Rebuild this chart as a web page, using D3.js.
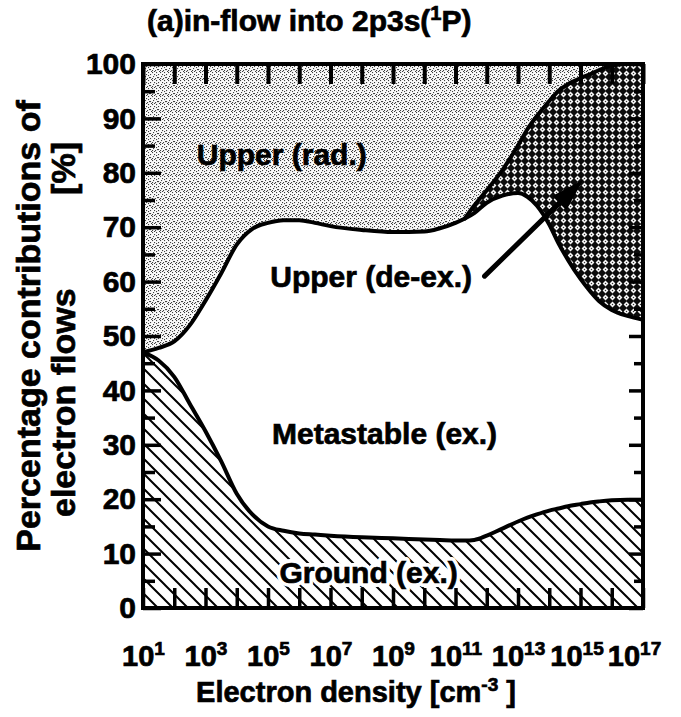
<!DOCTYPE html>
<html>
<head>
<meta charset="utf-8">
<script src="https://cdn.jsdelivr.net/npm/d3@7"></script>
<style>
  html, body { margin: 0; padding: 0; background: #fff; }
  svg { display: block; }
  text { font-family: "Liberation Sans", Arial, Helvetica, sans-serif; font-weight: bold; fill: #000;
         stroke: #000; stroke-width: 0.7px; }
  text.halo { fill: #fff; stroke: #fff; stroke-width: 8px; stroke-linejoin: round; }
</style>
</head>
<body>
<svg id="chart" width="681" height="717"></svg>
<script>
// log10 of electron density [cm^-3]
const logDensity = [1, 1.5, 2, 2.5, 3, 3.5, 4, 4.5, 5, 5.5, 6, 6.5, 7, 8, 9, 10, 10.5, 11, 11.3, 11.6,
                    12, 12.5, 13, 13.3, 13.6, 14, 14.3, 14.6, 15, 15.3, 15.6, 16, 16.5, 17];
// cumulative percentage: top of the "Ground (ex.)" band
const groundTop = [47, 45.5, 42.5, 37.5, 32.5, 27, 21, 17.2, 15, 14.2, 13.7, 13.5, 13.3, 13.0, 12.8, 12.6, 12.5, 12.4, 12.4, 12.5,
                   13.3, 14.6, 15.9, 16.6, 17.2, 17.9, 18.3, 18.7, 19.1, 19.4, 19.6, 19.8, 19.9, 19.9];
// cumulative percentage: top of the "Metastable (ex.)" band
const metastableTop = [47, 47.8, 49, 52, 56.5, 61.5, 66.8, 69.7, 70.8, 71.3, 71.3, 70.8, 70.2, 69.5, 69.1, 69.2, 69.8, 70.8, 71.6, 72.6,
                       74.5, 75.8, 76.3, 75.6, 74, 70.5, 67, 64, 60.5, 58.3, 56.4, 54.8, 53.7, 53];
// cumulative percentage: top of the "Upper (de-ex.)" band (equal to metastable below 10^11.3)
const deexTop = [47, 47.8, 49, 52, 56.5, 61.5, 66.8, 69.7, 70.8, 71.3, 71.3, 70.8, 70.2, 69.5, 69.1, 69.2, 69.8, 70.8, 71.6, 74,
                 76.8, 80.5, 85, 88, 90.4, 93.2, 95.1, 96.3, 97.4, 98.1, 98.9, 99.7, 100, 100];
const deexStart = 11.3;

const xTickExponents = [1, 3, 5, 7, 9, 11, 13, 15, 17];
const yTickValues = d3.range(0, 101, 5);
const yLabelValues = d3.range(0, 101, 10);

const titleText = { main: "(a)in-flow into 2p3s(", sup: "1", tail: "P)" };
const yTitle = { line1: "Percentage contributions of", line2: "electron flows", unit: "[%]" };
const xTitle = { main: "Electron density [cm", sup: "-3", tail: " ]" };

// region labels placed in data coordinates: [log10 density, percent]
const regionLabels = [
  { text: "Upper (rad.)", at: [5.44, 83.3], halo: false },
  { text: "Upper (de-ex.)", at: [8.3, 61], halo: false },
  { text: "Metastable (ex.)", at: [8.73, 32], halo: false },
  { text: "Ground (ex.)", at: [8.22, 6.6], halo: true }
];
const arrowFrom = [11.93, 61];
const arrowTo = [15.1, 78.8];

const svg = d3.select("#chart");
const plot = { left: 143, right: 643, top: 64, bottom: 608 };

const x = d3.scaleLog().domain([1e1, 1e17]).range([plot.left, plot.right]);
const y = d3.scaleLinear().domain([0, 100]).range([plot.bottom, plot.top]);

const rows = logDensity.map((e, i) => ({
  d: Math.pow(10, e), e, g: groundTop[i], m: metastableTop[i], u: deexTop[i]
}));

// fill patterns
const defs = svg.append("defs");
const stip = defs.append("pattern").attr("id", "stipple").attr("patternUnits", "userSpaceOnUse")
  .attr("width", 8).attr("height", 8);
stip.append("rect").attr("width", 8).attr("height", 8).attr("fill", "#fafafa");
[[0,0],[2,2],[4,0],[6,2],[1,4],[5,5],[3,6],[7,7],[0,6],[4,3],[6,5],[2,7]].forEach(([px, py]) =>
  stip.append("rect").attr("x", px).attr("y", py).attr("width", 1.1).attr("height", 1.1).attr("fill", "#404040"));

const cross = defs.append("pattern").attr("id", "crosshatch").attr("patternUnits", "userSpaceOnUse")
  .attr("width", 7).attr("height", 7);
cross.append("rect").attr("width", 7).attr("height", 7).attr("fill", "#0c0c0c");
cross.append("polygon").attr("points", "3.5,0.6 6.4,3.5 3.5,6.4 0.6,3.5").attr("fill", "#f4f4f4");
cross.append("rect").attr("x", 2.9).attr("y", 2.9).attr("width", 1.2).attr("height", 1.2).attr("fill", "#333");

const hatch = defs.append("pattern").attr("id", "hatch").attr("patternUnits", "userSpaceOnUse")
  .attr("width", 15).attr("height", 15);
hatch.append("rect").attr("width", 15).attr("height", 15).attr("fill", "#fff");
hatch.append("path").attr("d", "M-2,-2 L17,17 M-2,13 L2,17 M13,-2 L17,2")
  .attr("stroke", "#000").attr("stroke-width", 2);

const curve = d3.curveMonotoneX;
const clip = defs.append("clipPath").attr("id", "plotclip");
clip.append("rect").attr("x", plot.left).attr("y", plot.top)
  .attr("width", plot.right - plot.left).attr("height", plot.bottom - plot.top);

const g = svg.append("g").attr("clip-path", "url(#plotclip)");

// bands, bottom to top
g.append("path").datum(rows)
  .attr("d", d3.area().x(r => x(r.d)).y0(y(0)).y1(r => y(r.g)).curve(curve))
  .attr("fill", "url(#hatch)");
g.append("path").datum(rows)
  .attr("d", d3.area().x(r => x(r.d)).y0(r => y(r.g)).y1(r => y(r.m)).curve(curve))
  .attr("fill", "#fff");
g.append("path").datum(rows)
  .attr("d", d3.area().x(r => x(r.d)).y0(r => y(r.m)).y1(r => y(r.u)).curve(curve))
  .attr("fill", "url(#crosshatch)");
g.append("path").datum(rows)
  .attr("d", d3.area().x(r => x(r.d)).y0(r => y(r.u)).y1(y(100)).curve(curve))
  .attr("fill", "url(#stipple)");

// region labels (the ground label gets a white halo over the hatching)
const placeLabel = sel => sel
  .attr("x", d => x(Math.pow(10, d.at[0])))
  .attr("y", d => y(d.at[1]))
  .attr("text-anchor", "middle").attr("dominant-baseline", "central")
  .attr("font-size", 30)
  .text(d => d.text);
g.selectAll("text.halo").data(regionLabels.filter(d => d.halo)).join("text")
  .attr("class", "halo").call(placeLabel);

// boundary curves
const lineStyle = sel => sel.attr("fill", "none").attr("stroke", "#000")
  .attr("stroke-width", 4).attr("stroke-linejoin", "round").attr("stroke-linecap", "round");
g.append("path").datum(rows)
  .attr("d", d3.line().x(r => x(r.d)).y(r => y(r.g)).curve(curve)).call(lineStyle);
g.append("path").datum(rows)
  .attr("d", d3.line().x(r => x(r.d)).y(r => y(r.m)).curve(curve)).call(lineStyle);
g.append("path").datum(rows.filter(r => r.e >= deexStart))
  .attr("d", d3.line().x(r => x(r.d)).y(r => y(r.u)).curve(curve)).call(lineStyle);

// axes with inward ticks
const xTicks = xTickExponents.map(e => Math.pow(10, e));
const allDecades = d3.range(1, 18).map(e => Math.pow(10, e));
const labelShift = { 15: -4, 17: -9 };

const axisStyle = sel => {
  sel.select(".domain").remove();
  sel.selectAll(".tick line").attr("stroke", "#000").attr("stroke-width", 4);
};

svg.append("g").attr("transform", `translate(0,${plot.top})`)
  .call(d3.axisTop(x).tickValues(allDecades).tickSize(-20).tickFormat(""))
  .call(axisStyle);

const xAxis = svg.append("g").attr("transform", `translate(0,${plot.bottom})`)
  .call(d3.axisBottom(x).tickValues(allDecades).tickSizeInner(-20).tickSizeOuter(0).tickPadding(30)
    .tickFormat(d => xTicks.includes(d) ? "10" : ""))
  .call(axisStyle);
xAxis.selectAll(".tick line").attr("stroke-width", 3.5);
xAxis.selectAll(".tick text").each(function(d) {
  const t = d3.select(this);
  if (!xTicks.includes(d)) return;
  const e = Math.round(Math.log10(d));
  t.attr("font-size", 29).attr("fill", null).attr("y", 58).attr("dy", 0)
    .attr("font-family", null).attr("dx", labelShift[e] || 0);
  t.append("tspan").attr("dy", -11).attr("font-size", 19).text(e);
});

const yAxisL = svg.append("g").attr("transform", `translate(${plot.left},0)`)
  .call(d3.axisLeft(y).tickValues(yTickValues).tickSizeInner(-18).tickSizeOuter(0).tickPadding(26)
    .tickFormat(d => yLabelValues.includes(d) ? d : ""))
  .call(axisStyle);
yAxisL.selectAll(".tick line").attr("x2", d => (d % 10 === 0 ? 18 : 12)).attr("stroke-width", 3.5);
yAxisL.selectAll(".tick text").attr("font-size", 30).attr("fill", null).attr("x", -7).attr("font-family", null);

const yAxisR = svg.append("g").attr("transform", `translate(${plot.right},0)`)
  .call(d3.axisRight(y).tickValues(yTickValues).tickSizeInner(-14).tickSizeOuter(0).tickFormat(""))
  .call(axisStyle);
yAxisR.selectAll(".tick line").attr("x2", d => (d % 10 === 0 ? -14 : -9)).attr("stroke-width", 3.5);

// frame
svg.append("rect").attr("x", plot.left).attr("y", plot.top)
  .attr("width", plot.right - plot.left).attr("height", plot.bottom - plot.top)
  .attr("fill", "none").attr("stroke", "#000").attr("stroke-width", 4);

svg.selectAll("text.region").data(regionLabels).join("text")
  .attr("class", "region").call(placeLabel);

// arrow pointing into the de-excitation band
const ax0 = x(Math.pow(10, arrowFrom[0])), ay0 = y(arrowFrom[1]);
const ax1 = x(Math.pow(10, arrowTo[0])), ay1 = y(arrowTo[1]);
const ang = Math.atan2(ay1 - ay0, ax1 - ax0);
const headLen = 34, headW = 10;
const bx = ax1 - headLen * Math.cos(ang), by = ay1 - headLen * Math.sin(ang);
svg.append("line").attr("x1", ax0).attr("y1", ay0).attr("x2", bx).attr("y2", by)
  .attr("stroke", "#000").attr("stroke-width", 5).attr("stroke-linecap", "round");
svg.append("polygon")
  .attr("points", [
    [ax1, ay1],
    [bx + headW * Math.sin(ang), by - headW * Math.cos(ang)],
    [bx - headW * Math.sin(ang), by + headW * Math.cos(ang)]
  ].map(p => p.join(",")).join(" "))
  .attr("fill", "#000");

// title
const title = svg.append("text").attr("x", 147).attr("y", 31).attr("font-size", 30);
title.append("tspan").text(titleText.main);
title.append("tspan").attr("dy", -11).attr("font-size", 20).text(titleText.sup);
title.append("tspan").attr("dy", 11).text(titleText.tail);

// x-axis title
const xt = svg.append("text").attr("x", 356).attr("y", 702)
  .attr("text-anchor", "middle").attr("font-size", 29);
xt.append("tspan").text(xTitle.main);
xt.append("tspan").attr("dy", -11).attr("font-size", 19).text(xTitle.sup);
xt.append("tspan").attr("dy", 11).text(xTitle.tail);

// y-axis title: two rotated lines, unit set apart at the top of the second line
const yTitleG = svg.append("g").attr("transform", "rotate(-90)");
yTitleG.append("text").attr("x", -326).attr("y", 40)
  .attr("text-anchor", "middle").attr("font-size", 34).text(yTitle.line1);
yTitleG.append("text").attr("x", -517).attr("y", 75)
  .attr("text-anchor", "start").attr("font-size", 34).text(yTitle.line2);
yTitleG.append("text").attr("x", -142).attr("y", 75)
  .attr("text-anchor", "end").attr("font-size", 34).text(yTitle.unit);
</script>
</body>
</html>
